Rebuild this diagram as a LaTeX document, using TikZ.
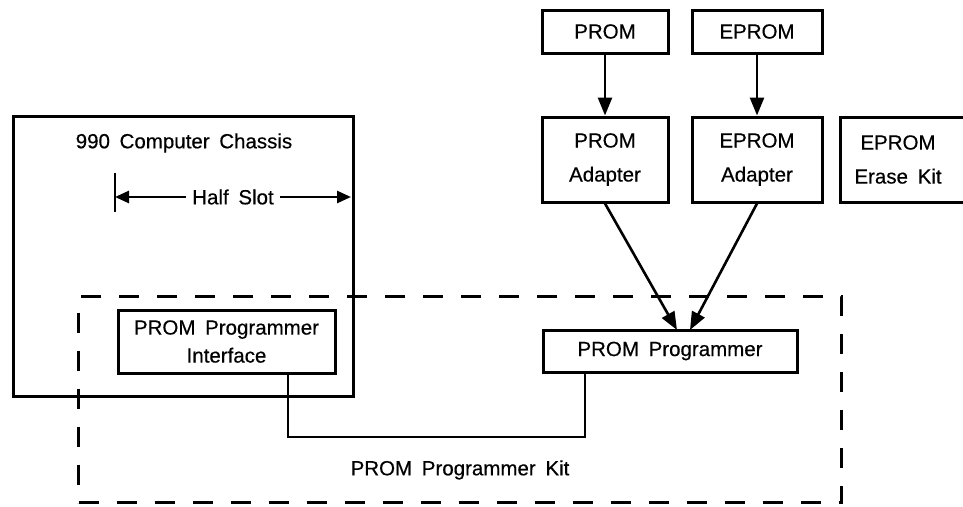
\documentclass[tikz,border=0pt]{standalone}
\usepackage{fontspec}
\setmainfont{Liberation Sans}[WordSpace=1.7,FakeBold=0.4]
\usetikzlibrary{arrows.meta,calc}
\newcommand\lblfont{\fontsize{20.5}{22}\selectfont}
\begin{document}
\begin{tikzpicture}[x=1pt,y=-1pt,
  box/.style={draw,line width=3pt,rectangle,inner sep=0pt,align=center,font=\lblfont},
  txt/.style={inner sep=0pt,font=\lblfont},
  conn/.style={line width=2.6pt},
  arr/.style={line width=2.6pt,-{Triangle[length=18pt,width=14pt]}},
  sarr/.style={line width=2.6pt,-{Triangle[length=14pt,width=12pt]}},
  kit/.style={draw,line width=3pt,dash pattern=on 20pt off 18pt}]
\useasboundingbox (0,0) rectangle (963,506);
% dashed kit box
\node[kit,minimum width=763pt,minimum height=206pt,anchor=north west] (kitbox) at (77,295) {};
% chassis
\node[box,minimum width=340pt,minimum height=280pt,anchor=north west] (chassis) at (12,115) {};
\node[txt] (chassislbl) at (184,143) {990 Computer Chassis};
% half slot
\coordinate (hsL) at (115,197);
\coordinate (hsR) at (351,197);
\node[txt,fill=white,inner xsep=6pt] (halfslot) at (233,197) {Half Slot};
\draw[conn] (115,173) -- (115,212);
\draw[sarr] (halfslot.west) -- (hsL);
\draw[sarr] (halfslot.east) -- (hsR);
% top boxes
\node[box,minimum width=126pt,minimum height=43pt] (prom) at (605,31.5) {PROM};
\node[box,minimum width=130pt,minimum height=43pt] (eprom) at (757,31.5) {EPROM};
\node[box,minimum width=126pt,minimum height=85pt] (promad) at (605,159.5) {PROM\\[12pt]Adapter};
\node[box,minimum width=130pt,minimum height=85pt] (epromad) at (757,159.5) {EPROM\\[12pt]Adapter};
% erase kit (open at right edge)
\node[txt,align=center] (erase) at (898,159.5) {EPROM\\[12pt]Erase Kit};
\draw[line width=3pt] (966,117) -- (840,117) -- (840,202) -- (966,202);
% programmer boxes
\node[box,minimum width=217pt,minimum height=63pt] (iface) at (226.5,341.5) {PROM Programmer\\[6pt]Interface};
\node[box,minimum width=254pt,minimum height=42pt] (prog) at (670,351) {PROM Programmer};
\node[txt] (kitlbl) at (460,470) {PROM Programmer Kit};
% arrows
\draw[arr] (prom.south) -- (promad.north);
\draw[arr] (eprom.south) -- (epromad.north);
\coordinate (tipA) at (677,330);
\coordinate (tipB) at (690,330);
\draw[arr] (promad.south) -- (tipA);
\draw[arr] (epromad.south) -- (tipB);
% cable
\coordinate (cabL) at (288,373);
\coordinate (cabR) at (585,372);
\coordinate (cabM) at (436,437);
\draw[conn] (cabL) |- (cabM) -| (cabR);
\end{tikzpicture}
\end{document}
